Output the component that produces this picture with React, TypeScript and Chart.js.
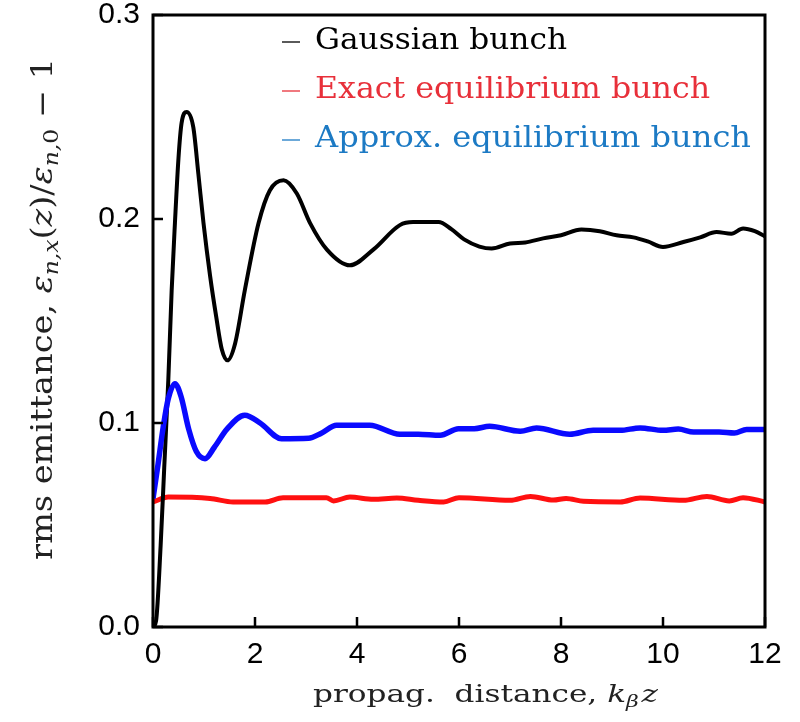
import React, { useEffect, useRef } from 'react';
import { Chart, registerables } from 'chart.js';

Chart.register(...registerables);

// ---------- data ----------
const gaussX = [0, 0.06, 0.15, 0.22, 0.3, 0.366, 0.43, 0.5, 0.56, 0.66, 0.79, 0.89, 0.99, 1.12, 1.24, 1.35, 1.46, 1.61, 1.8, 2.07, 2.29, 2.56, 2.82, 3.08, 3.41, 3.86, 4.32, 4.84, 5.1, 5.6, 5.85, 6.1, 6.4, 6.64, 7.0, 7.3, 7.65, 8.0, 8.4, 8.76, 9.09, 9.42, 9.7, 10.0, 10.4, 10.73, 11.05, 11.34, 11.57, 11.8, 12];
const gaussY = [0, 0.003, 0.04, 0.078, 0.121, 0.165, 0.198, 0.23, 0.247, 0.2525, 0.245, 0.222, 0.198, 0.172, 0.152, 0.136, 0.1307, 0.139, 0.165, 0.198, 0.214, 0.219, 0.2125, 0.198, 0.185, 0.1773, 0.185, 0.197, 0.1985, 0.1985, 0.195, 0.19, 0.1865, 0.1855, 0.188, 0.1885, 0.1905, 0.192, 0.1948, 0.194, 0.192, 0.191, 0.189, 0.1863, 0.1887, 0.191, 0.1936, 0.1928, 0.1953, 0.194, 0.1915];

const approxX = [0, 0.1, 0.2, 0.3, 0.43, 0.55, 0.7, 0.85, 1.02, 1.2, 1.45, 1.8, 2.1, 2.52, 3.05, 3.3, 3.6, 4.25, 4.84, 5.2, 5.63, 5.99, 6.3, 6.6, 7.2, 7.52, 8.17, 8.63, 9.16, 9.55, 10.0, 10.3, 10.6, 11.1, 11.4, 11.64, 12];
const approxY = [0.063, 0.08, 0.098, 0.112, 0.1193, 0.113, 0.097, 0.086, 0.0825, 0.088, 0.097, 0.1038, 0.1, 0.0923, 0.0925, 0.095, 0.0989, 0.0989, 0.0945, 0.0945, 0.094, 0.0972, 0.0972, 0.0984, 0.096, 0.0976, 0.0945, 0.0964, 0.0964, 0.0976, 0.0964, 0.097, 0.0956, 0.0956, 0.0951, 0.0968, 0.0968];

const exactX = [0, 0.3, 1.12, 1.57, 2.2, 2.55, 3.4, 3.54, 3.86, 4.32, 4.78, 5.2, 5.7, 6.0, 7.0, 7.4, 7.85, 8.1, 8.44, 9.16, 9.55, 10.4, 10.86, 11.3, 11.57, 12];
const exactY = [0.0613, 0.0637, 0.063, 0.0613, 0.0613, 0.0634, 0.0634, 0.0618, 0.0637, 0.0626, 0.0632, 0.0621, 0.0613, 0.0634, 0.0621, 0.064, 0.0622, 0.063, 0.0616, 0.0613, 0.0632, 0.0621, 0.064, 0.0618, 0.0634, 0.0613];

const xMin = 0, xMax = 12, xStep = 2;
const yMin = 0, yMax = 0.3, yStep = 0.1;

const legendLabels = ['Gaussian bunch', 'Exact equilibrium bunch', 'Approx. equilibrium bunch'];
const xTitleMain = 'propag.  distance, ';
const xTitleK = 'k';
const xTitleSub = 'β';
const xTitleZ = 'z';
const yTitleMain = 'rms emittance, ';

// ---------- styles ----------
const SERIF = 'DejaVu Serif';
const SANS = 'Liberation Sans';
const LINE_BLACK = '#000000';
const LINE_RED = '#ff1010';
const LINE_BLUE = '#0a0aff';
const TXT_RED = '#e8303a';
const TXT_BLUE = '#1c7ac4';

type Seg = { t: string; it?: boolean; s?: number; dy?: number };

function drawRich(ctx: CanvasRenderingContext2D, segs: Seg[], x: number, y: number, base: number, color: string, targetW?: number) {
  const fontOf = (sg: Seg) => `${sg.it ? 'italic ' : ''}${Math.round((sg.s ?? 1) * base)}px "${SERIF}"`;
  let w = 0;
  for (const sg of segs) { ctx.font = fontOf(sg); w += ctx.measureText(sg.t).width; }
  ctx.save();
  ctx.translate(x, y);
  const k = targetW ? targetW / w : 1;
  ctx.scale(k, 1);
  ctx.fillStyle = color;
  ctx.textAlign = 'left';
  ctx.textBaseline = 'alphabetic';
  let cx = 0;
  for (const sg of segs) {
    ctx.font = fontOf(sg);
    ctx.fillText(sg.t, cx, sg.dy ?? 0);
    cx += ctx.measureText(sg.t).width;
  }
  ctx.restore();
}

const decorPlugin = {
  id: 'decor',
  afterDatasetsDraw(chart: any) {
    const ctx: CanvasRenderingContext2D = chart.ctx;
    const { left, right, top, bottom } = chart.chartArea;
    const xs = chart.scales.x;
    const ys = chart.scales.y;
    ctx.save();
    // frame
    ctx.strokeStyle = '#000';
    ctx.lineWidth = 3;
    ctx.strokeRect(left, top, right - left, bottom - top);
    // inward ticks
    ctx.lineWidth = 2.5;
    ctx.beginPath();
    xs.ticks.forEach((t: any) => {
      const px = xs.getPixelForValue(t.value);
      ctx.moveTo(px, bottom);
      ctx.lineTo(px, bottom - 10);
    });
    ys.ticks.forEach((t: any) => {
      const py = ys.getPixelForValue(t.value);
      ctx.moveTo(left, py);
      ctx.lineTo(left + 10, py);
    });
    ctx.stroke();

    // legend
    const colors = [LINE_BLACK, TXT_RED, TXT_BLUE];
    const widths = [252, 395, 436];
    legendLabels.forEach((lab, i) => {
      const base = 48.5 + i * 49;
      ctx.strokeStyle = colors[i];
      ctx.lineWidth = 1.3;
      ctx.beginPath();
      ctx.moveTo(282, base - 6.5);
      ctx.lineTo(300, base - 6.5);
      ctx.stroke();
      drawRich(ctx, [{ t: lab }], 315, base, 29, colors[i], widths[i]);
    });

    // x title
    drawRich(ctx, [
      { t: xTitleMain },
      { t: xTitleK, it: true },
      { t: xTitleSub, it: true, s: 0.7, dy: 5 },
      { t: ' ', s: 0.3 },
      { t: xTitleZ, it: true },
    ], 313, 702, 24, '#222', 345);

    // y title (rotated)
    ctx.save();
    ctx.translate(52, 560);
    ctx.rotate(-Math.PI / 2);
    drawRich(ctx, [
      { t: yTitleMain },
      { t: 'ε', it: true },
      { t: 'n,x', it: true, s: 0.7, dy: 6 },
      { t: '(' },
      { t: 'z', it: true },
      { t: ')/' },
      { t: 'ε', it: true },
      { t: 'n,', it: true, s: 0.7, dy: 6 },
      { t: '0', s: 0.7, dy: 6 },
      { t: ' − 1' },
    ], 0, 0, 30, '#222', 502);
    ctx.restore();
    ctx.restore();
  },
};

export default function App() {
  const ref = useRef<HTMLCanvasElement | null>(null);
  useEffect(() => {
    document.body.style.margin = '0';
    const canvas = ref.current!;
    const mk = (xs: number[], ys: number[]) => xs.map((x, i) => ({ x, y: ys[i] }));
    const chart = new Chart(canvas, {
      type: 'line',
      data: {
        datasets: [
          { label: legendLabels[2], data: mk(approxX, approxY), borderColor: LINE_BLUE, borderWidth: 5.5, pointRadius: 0, cubicInterpolationMode: 'monotone', fill: false },
          { label: legendLabels[0], data: mk(gaussX, gaussY), borderColor: LINE_BLACK, borderWidth: 4, pointRadius: 0, cubicInterpolationMode: 'monotone', fill: false },
          { label: legendLabels[1], data: mk(exactX, exactY), borderColor: LINE_RED, borderWidth: 5, pointRadius: 0, cubicInterpolationMode: 'monotone', fill: false },
        ],
      },
      options: {
        responsive: false,
        animation: false,
        devicePixelRatio: 1,
        layout: { padding: { left: 0, top: 15, right: 35, bottom: 0 } },
        plugins: { legend: { display: false }, tooltip: { enabled: false } },
        scales: {
          x: {
            type: 'linear', min: xMin, max: xMax,
            grid: { display: false, drawTicks: false },
            border: { display: false },
            ticks: { stepSize: xStep, color: '#000', font: { family: SANS, size: 30 }, padding: 10, maxRotation: 0 },
            afterFit: (s: any) => { s.height = 95; s.paddingLeft = 0; s.paddingRight = 0; },
          },
          y: {
            type: 'linear', min: yMin, max: yMax,
            grid: { display: false, drawTicks: false },
            border: { display: false },
            ticks: { stepSize: yStep, color: '#000', font: { family: SANS, size: 30 }, padding: 13, callback: (v: any) => Number(v).toFixed(1) },
            afterFit: (s: any) => { s.width = 153; s.paddingTop = 0; s.paddingBottom = 0; },
          },
        },
      },
      plugins: [decorPlugin],
    } as any);
    return () => chart.destroy();
  }, []);
  return <canvas ref={ref} width={800} height={722} style={{ display: 'block' }} />;
}
